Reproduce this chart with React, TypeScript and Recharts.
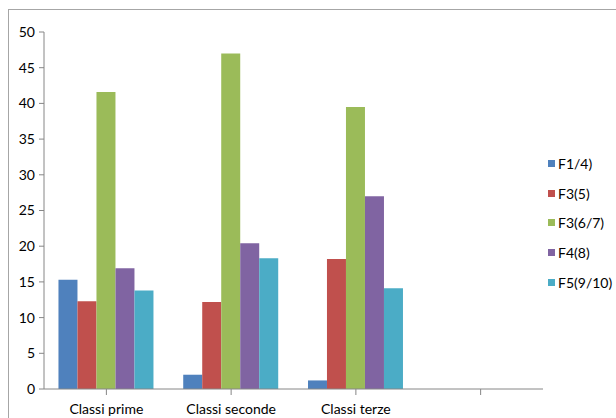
import React from "react";
import { BarChart, Bar, XAxis, YAxis } from "recharts";

const categories = ["Classi prime", "Classi seconde", "Classi terze", ""];
const seriesNames = ["F1/4)", "F3(5)", "F3(6/7)", "F4(8)", "F5(9/10)"];
const seriesColors = ["#4F81BD", "#C0504D", "#9BBB59", "#8064A2", "#4BACC6"];
const f1_4 = [15.3, 2.0, 1.2, null];
const f3_5 = [12.3, 12.2, 18.2, null];
const f3_6_7 = [41.6, 47.0, 39.5, null];
const f4_8 = [16.9, 20.4, 27.0, null];
const f5_9_10 = [13.8, 18.3, 14.1, null];
const yTicks = [0, 5, 10, 15, 20, 25, 30, 35, 40, 45, 50];

const seriesValues = [f1_4, f3_5, f3_6_7, f4_8, f5_9_10];
const data = categories.map((c, i) => {
  const row: Record<string, any> = { name: c };
  seriesNames.forEach((s, j) => {
    row[s] = seriesValues[j][i];
  });
  return row;
});

const font = "Lato, 'Open Sans', sans-serif";
const axisColor = "#868686";

export default function App() {
  return (
    <div style={{ position: "absolute", left: 0, top: 0, width: 616, height: 418, overflow: "hidden", background: "#fff", fontFamily: font }}>
      <div style={{ position: "absolute", left: 8, top: 9, width: 800, height: 600, border: "1px solid #a6a6a6" }} />
      <div style={{ position: "absolute", left: 0, top: 0 }}>
        <BarChart width={616} height={418} data={data} margin={{ top: 32, right: 73, bottom: 0, left: 0 }} barCategoryGap="11.6%" barGap={0}>
          <XAxis
            dataKey="name"
            height={29}
            tickLine={{ stroke: axisColor }}
            axisLine={{ stroke: axisColor }}
            tickSize={6}
            tickMargin={9}
            interval={0}
            tick={{ fill: "#000", fontSize: 14, fontFamily: font }}
            ticks={categories as any}
            padding={{ left: 0, right: 0 }}
          />
          <YAxis
            width={44}
            domain={[0, 50]}
            ticks={yTicks}
            interval={0}
            tickSize={5}
            tickMargin={4}
            tickLine={{ stroke: axisColor }}
            axisLine={{ stroke: axisColor }}
            tick={{ fill: "#000", fontSize: 14, fontFamily: font }}
          />
          {seriesNames.map((s, j) => (
            <Bar key={s} dataKey={s} fill={seriesColors[j]} isAnimationActive={false} />
          ))}
        </BarChart>
      </div>
      <div style={{ position: "absolute", left: 548, top: 149 }}>
        {seriesNames.map((s, j) => (
          <div key={s} style={{ display: "flex", alignItems: "center", height: 29.6, fontSize: 14, color: "#000" }}>
            <span style={{ display: "inline-block", width: 7, height: 7, background: seriesColors[j], marginRight: 3 }} />
            <span>{s}</span>
          </div>
        ))}
      </div>
    </div>
  );
}
